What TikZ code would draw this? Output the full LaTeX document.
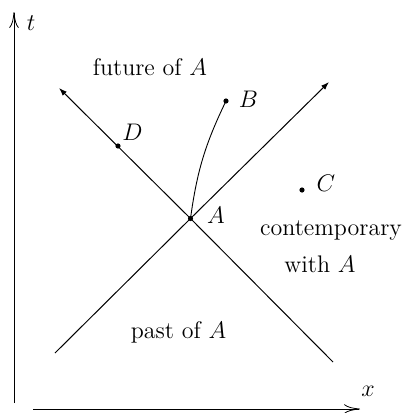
\documentclass[tikz,border=0pt]{standalone}
\usetikzlibrary{arrows.meta}
\begin{document}
\begin{tikzpicture}[x=0.5pt,y=-0.5pt,font=\large,
  line/.style={line width=0.45pt},
  cone/.style={line width=0.5pt,-{Latex[length=4pt,width=2.8pt]}},
  axis/.style={line width=0.4pt,-{To[length=8pt,width=4.8pt]}},
  pt/.style={circle,fill,inner sep=0pt,minimum size=2.6pt},
  lbl/.style={inner sep=0pt,anchor=base}]
\useasboundingbox (0,0) rectangle (406,413);
% axes
\coordinate (t0) at (14,403);
\coordinate (t1) at (14,12);
\coordinate (x0) at (33,409);
\coordinate (x1) at (360,409);
\draw[axis] (t0) -- (t1);
\draw[axis] (x0) -- (x1);
\node[lbl] (tl) at (31,30) {$t$};
\node[lbl] (xl) at (368,396) {$x$};
% light cone
\node[pt] (A) at (190.5,218.5) {};
\coordinate (c1s) at (55,353);
\coordinate (c1e) at (329,82);
\coordinate (c2s) at (333,362);
\coordinate (c2e) at (59,88);
\draw[cone] (c1s) -- (A.center) -- (c1e);
\draw[cone] (c2s) -- (A.center) -- (c2e);
% events
\node[pt] (D) at (118,146) {};
\node[pt] (B) at (226,101) {};
\node[pt] (C) at (302,190) {};
\draw[line] (A.center) to[bend left=9] (B.center);
\node[lbl] (Al) at (216,223) {$A$};
\node[lbl] (Bl) at (248.5,107) {$B$};
\node[lbl] (Cl) at (326,191) {$C$};
\node[lbl] (Dl) at (132.5,140) {$D$};
% region labels
\node[lbl] (fut) at (150,75) {future of $A$};
\node[lbl] (con) at (331,235) {contemporary};
\node[lbl] (wit) at (320,272) {with $A$};
\node[lbl] (pas) at (178.5,338) {past of $A$};
\end{tikzpicture}
\end{document}
